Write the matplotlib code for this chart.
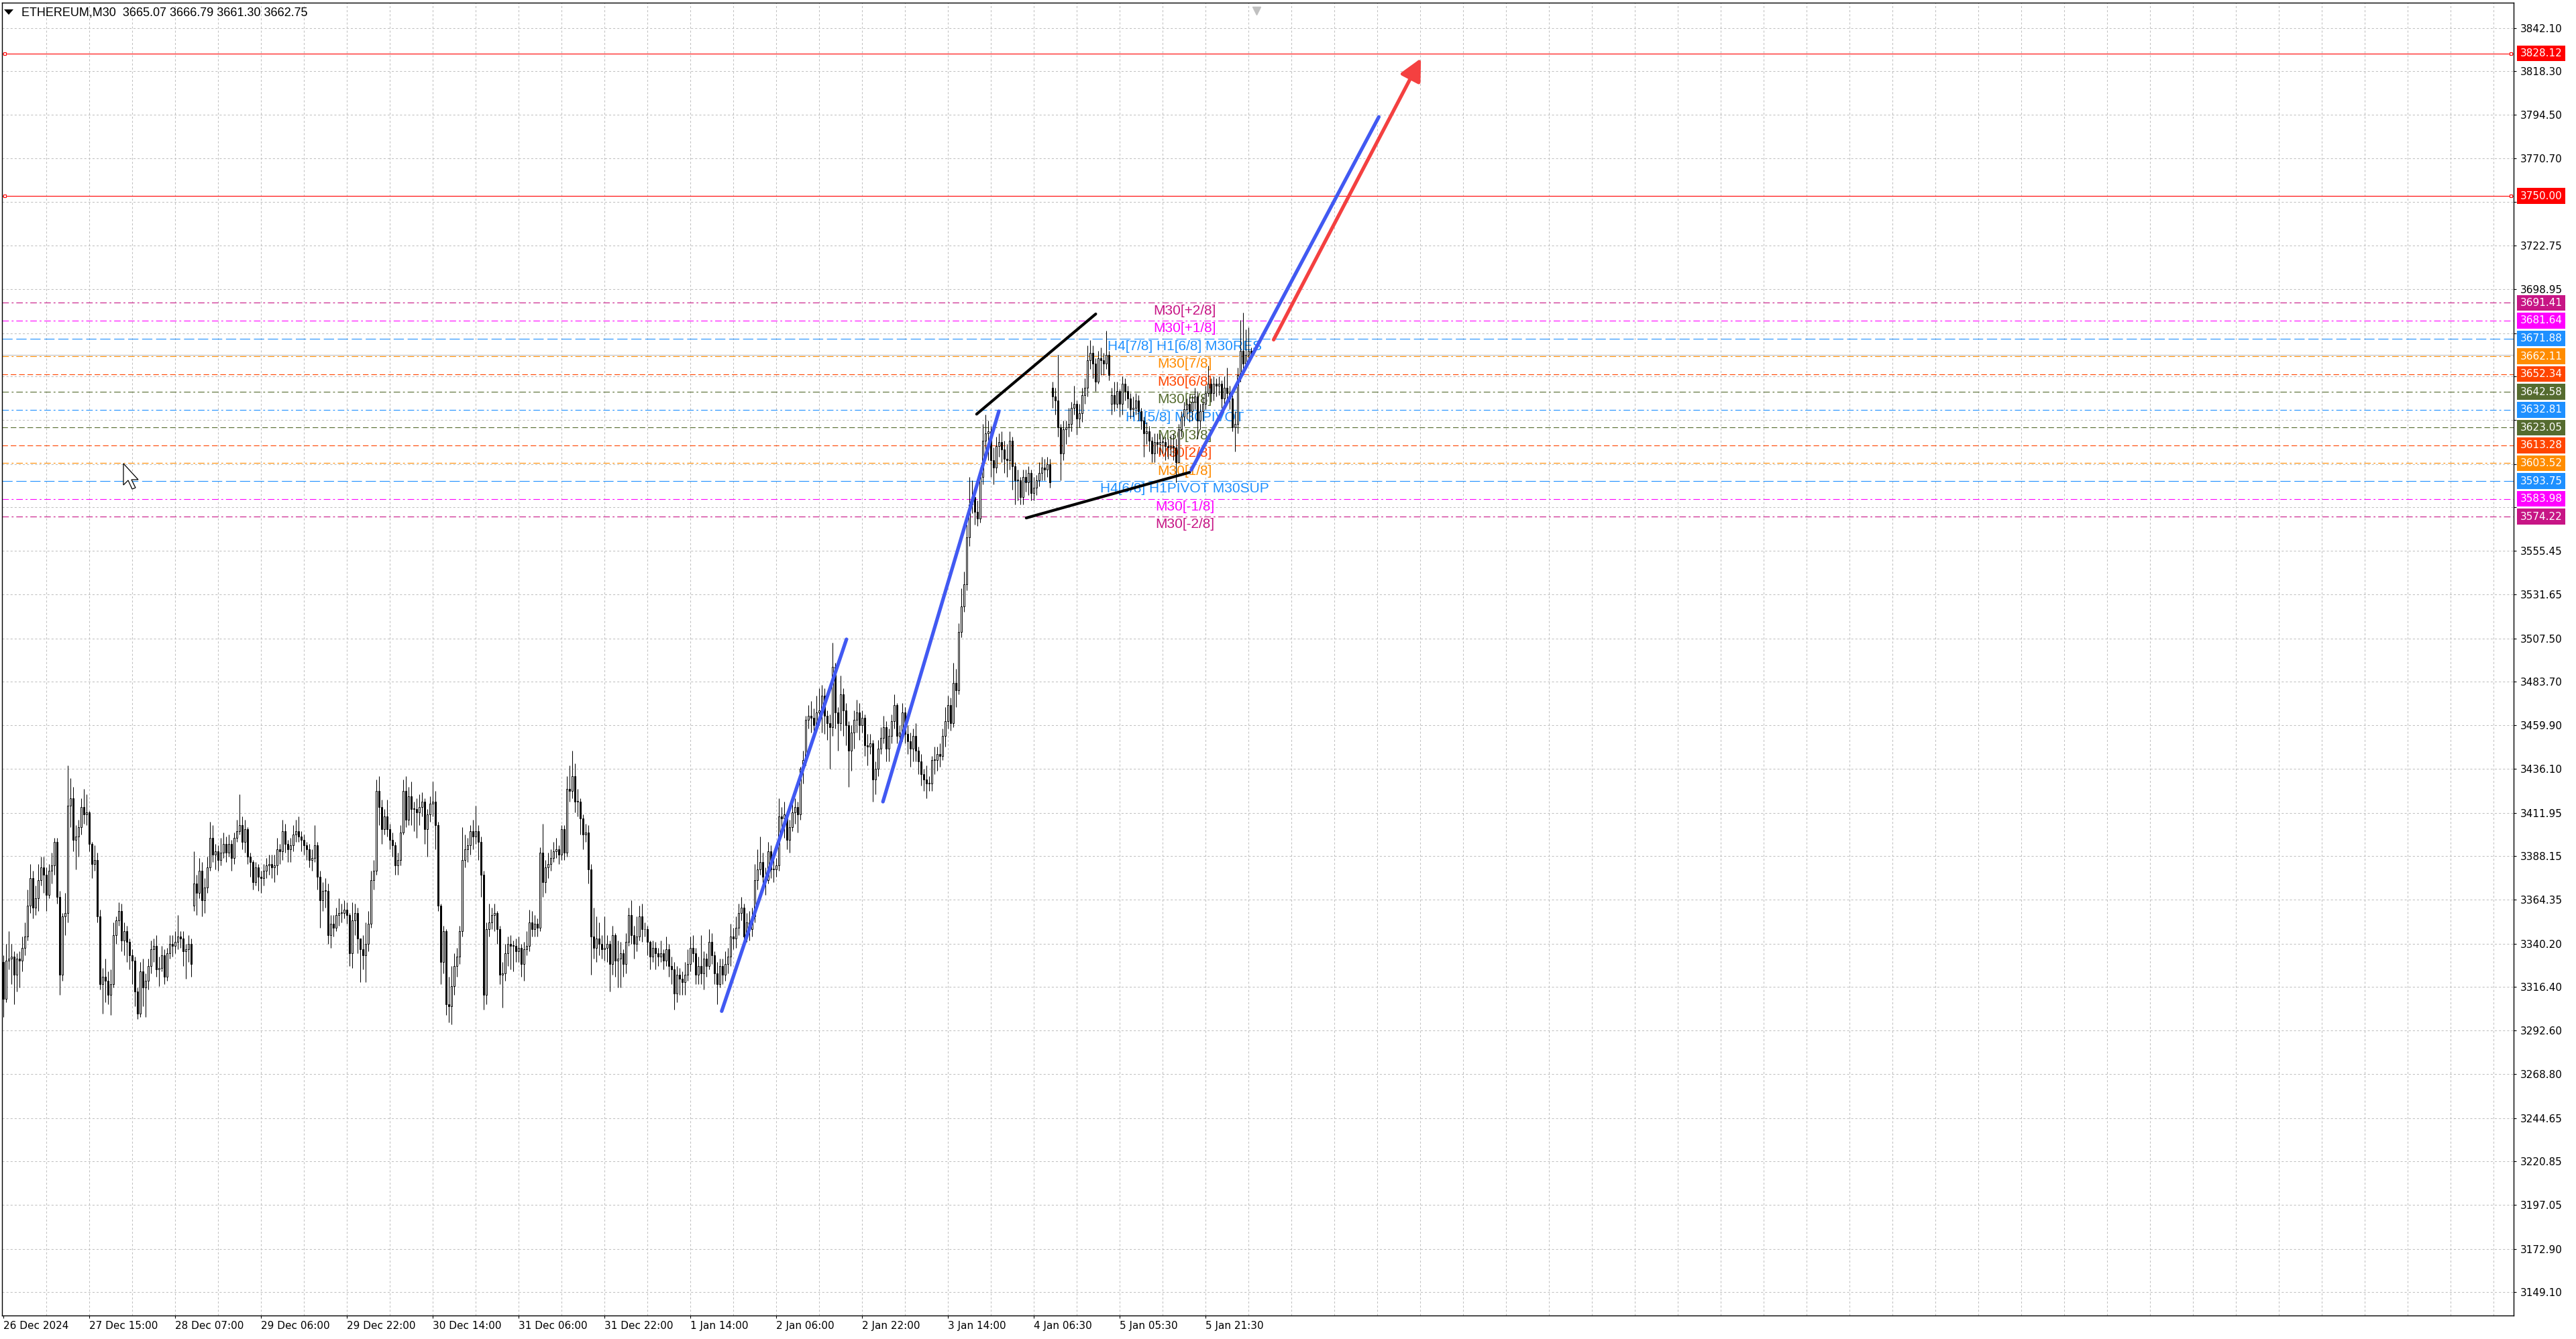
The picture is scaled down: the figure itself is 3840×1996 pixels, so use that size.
import matplotlib
matplotlib.use("Agg")
import matplotlib.pyplot as plt
import matplotlib.transforms as mtransforms
from matplotlib.patches import FancyArrowPatch, Polygon
import numpy as np

plt.rcParams["lines.scale_dashes"] = False

# ETHEREUM M30 candles, one value per bar
closes = [
    3310, 3331, 3332, 3333, 3323, 3332, 3331, 3338, 3344, 3361, 3376, 3360, 3365, 3375, 3382, 3378,
    3367, 3380, 3383, 3396, 3366, 3323, 3355, 3357, 3416, 3420, 3397, 3399, 3404, 3415, 3411, 3412,
    3395, 3384, 3386, 3355, 3318, 3322, 3320, 3312, 3318, 3345, 3353, 3358, 3342, 3347, 3341, 3334,
    3331, 3314, 3302, 3325, 3316, 3320, 3328, 3337, 3339, 3326, 3327, 3334, 3322, 3335, 3340, 3339,
    3341, 3344, 3343, 3336, 3337, 3340, 3329, 3373, 3368, 3380, 3364, 3371, 3382, 3398, 3389, 3391,
    3386, 3390, 3395, 3390, 3395, 3387, 3398, 3402, 3405, 3396, 3403, 3388, 3385, 3374, 3382, 3377,
    3376, 3380, 3383, 3384, 3382, 3383, 3392, 3391, 3402, 3395, 3392, 3394, 3400, 3402, 3399, 3397,
    3394, 3392, 3386, 3387, 3394, 3377, 3364, 3369, 3369, 3345, 3351, 3349, 3356, 3357, 3357, 3359,
    3356, 3335, 3353, 3357, 3343, 3337, 3334, 3340, 3351, 3375, 3380, 3424, 3415, 3403, 3410, 3403,
    3397, 3394, 3383, 3386, 3401, 3424, 3408, 3421, 3414, 3414, 3412, 3415, 3418, 3403, 3411, 3417,
    3418, 3405, 3361, 3330, 3347, 3307, 3306, 3317, 3328, 3333, 3347, 3386, 3392, 3394, 3402, 3399,
    3402, 3396, 3378, 3312, 3348, 3352, 3356, 3357, 3348, 3323, 3324, 3335, 3340, 3339, 3339, 3336,
    3338, 3329, 3337, 3339, 3352, 3348, 3351, 3349, 3390, 3374, 3382, 3384, 3387, 3391, 3392, 3389,
    3403, 3390, 3425, 3424, 3432, 3418, 3418, 3409, 3400, 3401, 3381, 3344, 3338, 3343, 3340, 3337,
    3338, 3340, 3329, 3345, 3331, 3332, 3335, 3329, 3341, 3356, 3345, 3340, 3344, 3355, 3348, 3348,
    3341, 3333, 3338, 3335, 3333, 3335, 3331, 3337, 3328, 3326, 3313, 3323, 3321, 3319, 3323, 3329,
    3338, 3335, 3323, 3328, 3324, 3332, 3328, 3341, 3334, 3324, 3318, 3328, 3323, 3329, 3333, 3344,
    3343, 3349, 3357, 3360, 3344, 3352, 3348, 3355, 3375, 3381, 3385, 3377, 3375, 3391, 3381, 3381,
    3383, 3410, 3409, 3411, 3397, 3404, 3412, 3415, 3411, 3436, 3441, 3463, 3465, 3464, 3460, 3467,
    3468, 3476, 3465, 3461, 3459, 3492, 3467, 3461, 3477, 3468, 3460, 3446, 3456, 3463, 3467, 3460,
    3464, 3449, 3448, 3450, 3430, 3436, 3447, 3453, 3459, 3447, 3454, 3462, 3471, 3454, 3456, 3467,
    3455, 3451, 3447, 3454, 3446, 3440, 3433, 3430, 3428, 3428, 3441, 3441, 3444, 3443, 3454, 3462,
    3471, 3461, 3483, 3479, 3511, 3525, 3537, 3563, 3581, 3585, 3577, 3573, 3596, 3616, 3620, 3621,
    3605, 3601, 3613, 3615, 3611, 3606, 3605, 3616, 3602, 3594, 3594, 3585, 3596, 3593, 3598, 3587,
    3590, 3594, 3598, 3601, 3600, 3603, 3593, 3640, 3638, 3623, 3609, 3622, 3623, 3625, 3634, 3636,
    3628, 3631, 3641, 3645, 3660, 3664, 3658, 3648, 3661, 3660, 3658, 3663, 3652, 3641, 3636, 3643,
    3636, 3647, 3643, 3639, 3633, 3634, 3638, 3632, 3627, 3620, 3621, 3616, 3609, 3615, 3614, 3615,
    3615, 3613, 3612, 3613, 3612, 3604, 3622, 3629, 3633, 3636, 3632, 3637, 3640, 3627, 3632, 3636,
    3642, 3647, 3642, 3647, 3646, 3647, 3639, 3645, 3642, 3639, 3623, 3625, 3652, 3665, 3658, 3663,
    3665, 3662.75,
]
highs = [
    3334, 3340, 3347, 3340, 3336, 3335, 3336, 3344, 3352, 3370, 3384, 3380, 3372, 3384, 3388, 3388,
    3382, 3384, 3390, 3398, 3398, 3369, 3357, 3368, 3438, 3431, 3426, 3405, 3408, 3420, 3425, 3422,
    3413, 3396, 3394, 3390, 3359, 3327, 3332, 3325, 3326, 3352, 3355, 3363, 3362, 3352, 3350, 3343,
    3337, 3333, 3316, 3330, 3332, 3324, 3332, 3342, 3343, 3345, 3333, 3339, 3337, 3338, 3345, 3345,
    3347, 3356, 3347, 3347, 3340, 3345, 3343, 3391, 3378, 3387, 3385, 3376, 3388, 3407, 3405, 3395,
    3394, 3398, 3401, 3399, 3400, 3397, 3401, 3408, 3422, 3410, 3408, 3404, 3390, 3386, 3385, 3384,
    3380, 3384, 3387, 3389, 3389, 3389, 3398, 3395, 3408, 3406, 3397, 3398, 3405, 3408, 3410, 3402,
    3400, 3396, 3395, 3392, 3405, 3396, 3380, 3374, 3376, 3373, 3356, 3356, 3360, 3365, 3362, 3364,
    3363, 3357, 3363, 3362, 3360, 3342, 3345, 3352, 3358, 3380, 3386, 3430, 3432, 3419, 3414, 3419,
    3406, 3401, 3396, 3390, 3405, 3430, 3432, 3426, 3429, 3418, 3420, 3422, 3423, 3420, 3414, 3421,
    3429, 3424, 3407, 3362, 3350, 3348, 3322, 3328, 3335, 3338, 3350, 3404, 3400, 3398, 3405, 3408,
    3416, 3405, 3399, 3380, 3352, 3362, 3360, 3362, 3358, 3350, 3330, 3340, 3344, 3345, 3342, 3343,
    3344, 3340, 3341, 3347, 3359, 3358, 3356, 3354, 3393, 3406, 3386, 3390, 3392, 3396, 3398, 3394,
    3405, 3405, 3432, 3438, 3446, 3439, 3425, 3420, 3411, 3406, 3405, 3384, 3360, 3355, 3352, 3345,
    3355, 3345, 3342, 3350, 3346, 3342, 3341, 3337, 3346, 3360, 3364, 3350, 3355, 3361, 3362, 3352,
    3350, 3342, 3342, 3341, 3338, 3342, 3337, 3344, 3340, 3333, 3330, 3328, 3327, 3325, 3330, 3337,
    3344, 3345, 3338, 3333, 3345, 3336, 3335, 3348, 3346, 3336, 3330, 3332, 3332, 3336, 3338, 3351,
    3349, 3355, 3362, 3366, 3362, 3357, 3358, 3360, 3384, 3392, 3399, 3390, 3382, 3396, 3394, 3386,
    3387, 3420, 3415, 3418, 3413, 3408, 3417, 3420, 3418, 3437, 3446, 3465, 3471, 3473, 3469, 3476,
    3480, 3482, 3480, 3468, 3466, 3505, 3494, 3470, 3487, 3480, 3472, 3462, 3460, 3468, 3474, 3472,
    3468, 3466, 3455, 3455, 3452, 3440, 3452, 3459, 3465, 3462, 3458, 3466, 3477, 3472, 3460, 3472,
    3470, 3460, 3456, 3458, 3461, 3448, 3444, 3436, 3438, 3432, 3443, 3448, 3448, 3450, 3458, 3470,
    3476, 3475, 3494, 3491, 3516, 3535, 3544, 3570, 3596, 3594, 3590, 3583, 3601, 3625, 3630, 3627,
    3624, 3612, 3618, 3620, 3621, 3616, 3614, 3621, 3618, 3604, 3600, 3596, 3600, 3600, 3602, 3600,
    3596, 3597, 3604, 3607, 3606, 3607, 3606, 3648, 3645, 3663, 3625, 3627, 3627, 3634, 3637, 3646,
    3638, 3636, 3645, 3650, 3668, 3671, 3668, 3661, 3665, 3667, 3664, 3676, 3665, 3645, 3648, 3648,
    3644, 3651, 3650, 3646, 3642, 3640, 3642, 3641, 3634, 3629, 3626, 3624, 3618, 3620, 3620, 3620,
    3618, 3618, 3617, 3619, 3620, 3617, 3625, 3632, 3637, 3639, 3640, 3641, 3645, 3643, 3636, 3640,
    3646, 3657, 3650, 3651, 3650, 3651, 3649, 3651, 3656, 3646, 3641, 3632, 3656, 3682, 3686, 3677,
    3678, 3666.79,
]
lows = [
    3300, 3308, 3326, 3318, 3307, 3314, 3316, 3325, 3334, 3342, 3357, 3354, 3356, 3358, 3372, 3368,
    3358, 3365, 3373, 3378, 3362, 3312, 3320, 3345, 3352, 3404, 3391, 3381, 3388, 3400, 3406, 3405,
    3391, 3376, 3380, 3352, 3315, 3302, 3308, 3307, 3301, 3316, 3340, 3350, 3336, 3334, 3330, 3326,
    3318, 3306, 3299, 3300, 3306, 3300, 3315, 3324, 3330, 3322, 3317, 3325, 3318, 3320, 3332, 3333,
    3335, 3337, 3338, 3328, 3321, 3330, 3322, 3358, 3356, 3365, 3355, 3357, 3368, 3380, 3385, 3381,
    3380, 3383, 3387, 3385, 3388, 3380, 3384, 3396, 3400, 3392, 3390, 3384, 3377, 3370, 3372, 3369,
    3368, 3372, 3376, 3378, 3376, 3374, 3378, 3384, 3386, 3390, 3385, 3385, 3391, 3396, 3396, 3391,
    3389, 3386, 3382, 3380, 3385, 3370, 3349, 3358, 3360, 3340, 3338, 3344, 3347, 3350, 3352, 3354,
    3351, 3328, 3327, 3345, 3335, 3319, 3326, 3319, 3336, 3349, 3370, 3378, 3405, 3395, 3400, 3399,
    3392, 3388, 3378, 3378, 3383, 3400, 3404, 3405, 3405, 3402, 3398, 3405, 3410, 3395, 3388, 3407,
    3410, 3392, 3358, 3318, 3324, 3301, 3297, 3296, 3312, 3322, 3329, 3344, 3382, 3385, 3389, 3392,
    3395, 3386, 3366, 3304, 3307, 3344, 3348, 3347, 3340, 3318, 3305, 3320, 3328, 3326, 3325, 3330,
    3330, 3322, 3320, 3334, 3336, 3344, 3344, 3344, 3347, 3366, 3368, 3376, 3380, 3385, 3387, 3384,
    3386, 3386, 3388, 3418, 3420, 3412, 3410, 3400, 3392, 3396, 3373, 3323, 3332, 3330, 3334, 3332,
    3331, 3330, 3314, 3323, 3322, 3316, 3316, 3322, 3324, 3339, 3340, 3332, 3336, 3342, 3341, 3344,
    3334, 3326, 3330, 3326, 3328, 3330, 3326, 3328, 3322, 3318, 3304, 3308, 3312, 3312, 3312, 3320,
    3325, 3330, 3318, 3318, 3318, 3315, 3322, 3326, 3329, 3318, 3307, 3316, 3318, 3320, 3324, 3328,
    3337, 3338, 3345, 3353, 3340, 3341, 3342, 3344, 3352, 3370, 3378, 3372, 3367, 3373, 3376, 3374,
    3377, 3380, 3404, 3398, 3392, 3390, 3402, 3406, 3401, 3408, 3428, 3438, 3458, 3456, 3452, 3458,
    3460, 3456, 3455, 3452, 3436, 3454, 3458, 3446, 3457, 3454, 3449, 3426, 3435, 3447, 3456, 3452,
    3456, 3443, 3438, 3444, 3418, 3422, 3432, 3444, 3450, 3440, 3440, 3450, 3458, 3450, 3447, 3451,
    3450, 3444, 3437, 3440, 3440, 3433, 3427, 3424, 3420, 3424, 3424, 3433, 3435, 3437, 3441, 3448,
    3458, 3457, 3459, 3470, 3477, 3508, 3522, 3534, 3558, 3576, 3570, 3569, 3571, 3592, 3610, 3605,
    3596, 3592, 3598, 3607, 3604, 3598, 3596, 3600, 3589, 3581, 3583, 3581, 3581, 3588, 3586, 3583,
    3583, 3586, 3591, 3594, 3594, 3596, 3590, 3634, 3630, 3618, 3594, 3605, 3614, 3618, 3621, 3630,
    3619, 3623, 3626, 3636, 3640, 3655, 3650, 3643, 3647, 3652, 3652, 3655, 3649, 3630, 3632, 3634,
    3629, 3630, 3638, 3634, 3628, 3629, 3630, 3627, 3622, 3607, 3614, 3610, 3604, 3604, 3609, 3608,
    3609, 3605, 3606, 3608, 3605, 3593, 3605, 3618, 3624, 3628, 3626, 3627, 3633, 3617, 3622, 3627,
    3633, 3640, 3637, 3638, 3640, 3641, 3634, 3636, 3638, 3633, 3621, 3610, 3620, 3648, 3652, 3655,
    3658, 3661.30,
]
# bars whose open does not equal the previous close
gap_opens = {0: 3330, 71: 3361, 391: 3645, 413: 3636, 465: 3665.07}

# murrey levels
level_prices = [3691.41, 3681.64, 3671.88, 3662.11, 3652.34, 3642.58, 3632.81,
                3623.05, 3613.28, 3603.52, 3593.75, 3583.98, 3574.22]
level_names = ["M30[+2/8]", "M30[+1/8]", "H4[7/8] H1[6/8] M30RES", "M30[7/8]", "M30[6/8]",
               "M30[5/8]", "H1[5/8] M30PIVOT", "M30[3/8]", "M30[2/8]", "M30[1/8]",
               "H4[6/8] H1PIVOT M30SUP", "M30[-1/8]", "M30[-2/8]"]
level_colors = ["#C71585", "#FF00FF", "#1E90FF", "#FF8C00", "#FF4500", "#556B2F", "#1E90FF",
                "#556B2F", "#FF4500", "#FF8C00", "#1E90FF", "#FF00FF", "#C71585"]
level_kinds = ["dashdot", "dashdot", "long", "dashdot", "dash", "dashdot", "dashdot",
               "dash", "dash", "dashdot", "long", "dashdot", "dashdot"]
target_prices = [3828.12, 3750.00]
bid_price = 3662.75

# drawn objects (bar index, price)
blue_lines = [((267.7, 3303.2), (314.2, 3507.0)),
              ((327.8, 3418.0), (371.0, 3632.0)),
              ((442.7, 3599.8), (512.6, 3793.3))]
black_lines = [((362.7, 3630.4), (407.1, 3685.3)),
               ((381.2, 3573.5), (442.1, 3598.5))]
red_arrow = ((473.4, 3671.2), (528.3, 3825.4))

y_ticks = [3149.10, 3172.90, 3197.05, 3220.85, 3244.65, 3268.80, 3292.60, 3316.40, 3340.20,
           3364.35, 3388.15, 3411.95, 3436.10, 3459.90, 3483.70, 3507.50, 3531.65, 3555.45,
           3579.25, 3603.05, 3627.20, 3651.00, 3674.80, 3698.95, 3722.75, 3746.55, 3770.70,
           3794.50, 3818.30, 3842.10]
hidden_ticks = [3579.25, 3603.05, 3627.20, 3651.00, 3674.80, 3746.55]
x_labels = ["26 Dec 2024", "27 Dec 15:00", "28 Dec 07:00", "29 Dec 06:00", "29 Dec 22:00",
            "30 Dec 14:00", "31 Dec 06:00", "31 Dec 22:00", "1 Jan 14:00", "2 Jan 06:00",
            "2 Jan 22:00", "3 Jan 14:00", "4 Jan 06:30", "5 Jan 05:30", "5 Jan 21:30"]
title = "ETHEREUM,M30  3665.07 3666.79 3661.30 3662.75"

n = len(closes)
opens = [gap_opens.get(i, closes[i - 1] if i else closes[0]) for i in range(n)]
o = np.array(opens, float)
c = np.array(closes, float)
h = np.maximum.reduce([np.array(highs, float), o, c])
l = np.minimum.reduce([np.array(lows, float), o, c])
idx = np.arange(n)

W, H = 3840, 1996
fig = plt.figure(figsize=(W / 100, H / 100), dpi=100, facecolor="white")
ax = fig.add_axes([3 / W, 35 / H, 3744 / W, 1957 / H])
ax.set_facecolor("white")
ax.set_xlim(-0.5, 935.5)
ax.set_ylim(3136.4, 3855.9)

grid_kw = dict(color="#c0c0c0", lw=0.75, ls=(0, (2.2, 2.2)), zorder=0.5)
for p in y_ticks:
    ax.axhline(p, **grid_kw)
for b in range(16, 936, 16):
    ax.axvline(b, **grid_kw)

dash_map = {"dashdot": (0, (7, 3, 2, 3)), "dash": (0, (6, 3)), "long": (0, (11, 4))}
for p, name, col, kind in zip(level_prices, level_names, level_colors, level_kinds):
    ax.axhline(p, color=col, lw=0.8, ls=dash_map[kind], zorder=1)
    ax.text(440.25, p - 4.3, name, color=col, fontsize=15, ha="center", va="center",
            family=["Liberation Sans", "DejaVu Sans"], zorder=1.5)

ax.axhline(bid_price, color="#c0c0c0", lw=0.8, zorder=1)
for p in target_prices:
    ax.axhline(p, color="#ff0000", lw=0.8, zorder=1)
    ax.plot([0.5, 934.4], [p, p], ls="none", marker="s", ms=3.2, mfc="white",
            mec="#ff0000", mew=0.8, zorder=1.2)

# candles
ax.vlines(idx, l, h, color="black", lw=0.75, zorder=2)
up = c >= o
ax.bar(idx, np.maximum(np.abs(c - o), 0.35), bottom=np.minimum(o, c), width=0.56,
       color=np.where(up, "white", "black"), edgecolor="black", linewidth=0.7, zorder=2.2)

for (x0, y0), (x1, y1) in black_lines:
    ax.plot([x0, x1], [y0, y1], color="black", lw=3.0, solid_capstyle="round", zorder=3)
for (x0, y0), (x1, y1) in blue_lines:
    ax.plot([x0, x1], [y0, y1], color="#4159f2", lw=3.8, solid_capstyle="round", zorder=3)
ax.add_patch(FancyArrowPatch(red_arrow[0], red_arrow[1],
                             arrowstyle="-|>,head_length=0.9,head_width=0.45",
                             mutation_scale=22, color="#f44040", lw=3.8,
                             capstyle="round", shrinkA=0, shrinkB=0, zorder=3))

# axes look
for s in ax.spines.values():
    s.set_color("black")
    s.set_linewidth(1.0)
ax.yaxis.tick_right()
ax.set_yticks(y_ticks)
ax.set_yticklabels(["" if v in hidden_ticks else f"{v:.2f}" for v in y_ticks])
ax.tick_params(axis="y", direction="out", length=3, width=0.8, pad=4, labelsize=11,
               colors="black")
ax.set_xticks(range(0, 32 * len(x_labels), 32))
ax.set_xticklabels(x_labels, ha="left")
ax.tick_params(axis="x", direction="out", length=3, width=0.8, pad=3, labelsize=11,
               colors="black")
ax.minorticks_off()

trans = mtransforms.blended_transform_factory(ax.transAxes, ax.transData)
for p, col in zip(level_prices + target_prices, level_colors + ["#ff0000", "#ff0000"]):
    ax.text(1.0026, p, f"{p:.2f}", transform=trans, color="white", fontsize=11,
            ha="left", va="center", clip_on=False, zorder=5,
            bbox=dict(boxstyle="square,pad=0.28", fc=col, ec="none"))

# chart-shift marker on top border
ax.plot([467], [0.994], transform=mtransforms.blended_transform_factory(ax.transData, ax.transAxes),
        marker="v", ms=9, color="#c0c0c0", clip_on=False, zorder=4)

# title with the small menu triangle
fig.text(32 / W, 1 - 19 / H, title, fontsize=13, family=["Liberation Sans", "DejaVu Sans"],
         ha="left", va="center", color="black")
tri = [(6, 14), (20, 14), (13, 22)]
fig.add_artist(Polygon([(x / W, 1 - y / H) for x, y in tri], closed=True,
                       transform=fig.transFigure, fc="black", ec="none"))

# mouse pointer
tip = (184, 691)
cursor = [(0, 0), (0, 32), (7, 25), (13, 38), (18, 36), (12, 24), (22, 24)]
fig.add_artist(Polygon([((tip[0] + dx) / W, 1 - (tip[1] + dy) / H) for dx, dy in cursor],
                       closed=True, transform=fig.transFigure, fc="white", ec="black", lw=0.9,
                       zorder=6))

fig.savefig("out.png", dpi=100, facecolor="white")
